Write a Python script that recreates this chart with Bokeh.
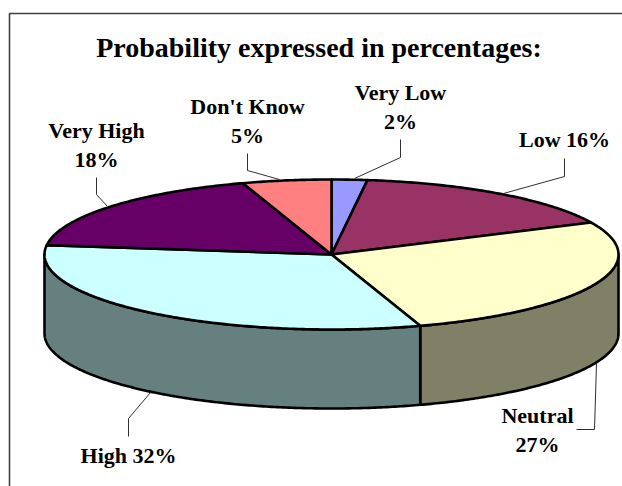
import numpy as np
from bokeh.plotting import figure
from bokeh.models import ColumnDataSource, Range1d
from bokeh.core.properties import value
from bokeh.embed import file_html
from bokeh.resources import INLINE

# Survey shares, clockwise from twelve o'clock
categories = ["Very Low", "Low", "Neutral", "High", "Very High", "Don't Know"]
shares = [2, 16, 27, 32, 18, 5]
top_colors = ["#9999FF", "#993366", "#FFFFCC", "#CCFFFF", "#660066", "#FF8080"]
side_colors = ["#4C4C80", "#4C1933", "#808066", "#668080", "#330033", "#804040"]
title_text = "Probability expressed in percentages:"

# Pie geometry in screen pixels
CX, CY, RX, RY, DEPTH = 331.0, 254.0, 287.0, 75.0, 79.0

# Whether a label breaks after its name, its text centre and its leader polyline
label_two_lines = [True, False, True, False, True, True]
label_pos = [(400, 92), (564, 139), (537, 415), (128, 455), (96, 130), (247, 106)]
LINE_GAP = 28.5
leaders = [
    ([400, 400, 354], [139, 157, 178]),
    ([564, 564, 503], [158, 176, 193]),
    ([576, 594, 596], [429, 429, 363]),
    ([128, 128, 150], [436, 418, 392]),
    ([96, 96, 107], [177, 194, 206]),
    ([247, 247, 279], [153, 170, 179]),
]


def rim(start, end, drop=0.0):
    """Points on the ellipse between two clockwise angles from the top, in radians."""
    n = max(int(abs(end - start) / 0.01), 2)
    t = np.linspace(start, end, n)
    return CX + RX * np.sin(t), CY - RY * np.cos(t) + drop


p = figure(width=622, height=486, output_backend="svg", toolbar_location=None,
           x_range=Range1d(0, 622), y_range=Range1d(486, 0),
           x_axis_type=None, y_axis_type=None, min_border=0,
           outline_line_color=None, background_fill_color="white",
           border_fill_color="white")
p.grid.visible = False

# Chart-area frame, open towards the window's right and bottom edges
p.line([9, 9, 622], [486, 13, 13], line_color="#404040", line_width=1.6)

edges = 2 * np.pi * np.cumsum([0] + shares) / sum(shares)

# Front wall: only the part of each slice on the near half of the ellipse
for i in range(len(shares)):
    a, b = max(edges[i], np.pi / 2), min(edges[i + 1], 3 * np.pi / 2)
    if a >= b:
        continue
    xt, yt = rim(a, b)
    xb, yb = rim(b, a, DEPTH)
    p.patch(np.r_[xt, xb], np.r_[yt, yb], fill_color=side_colors[i],
            line_color="black", line_width=2.6, line_join="round")

# Top face
for i in range(len(shares)):
    xr, yr = rim(edges[i], edges[i + 1])
    p.patch(np.r_[CX, xr], np.r_[CY, yr], fill_color=top_colors[i],
            line_color="black", line_width=2.6, line_join="round")

# Leader lines
for xs, ys in leaders:
    p.line(xs, ys, line_color="#303030", line_width=1)

# Labels
tx, ty, tt = [], [], []
for name, share, two, (x, y) in zip(categories, shares, label_two_lines, label_pos):
    if two:
        tx += [x, x]
        ty += [y, y + LINE_GAP]
        tt += [name, f"{share}%"]
    else:
        tx.append(x)
        ty.append(y)
        tt.append(f"{name} {share}%")
p.text("x", "y", "text", source=ColumnDataSource(dict(x=tx, y=ty, text=tt)),
       text_font=value("Liberation Serif"), text_font_style="bold",
       text_font_size="22px", text_color="black",
       text_align="center", text_baseline="middle")

p.text([318.5], [47], [title_text], text_font=value("Liberation Serif"),
       text_font_style="bold", text_font_size="28px", text_color="black",
       text_align="center", text_baseline="middle")

open("out.html", "w").write(file_html(p, INLINE))
